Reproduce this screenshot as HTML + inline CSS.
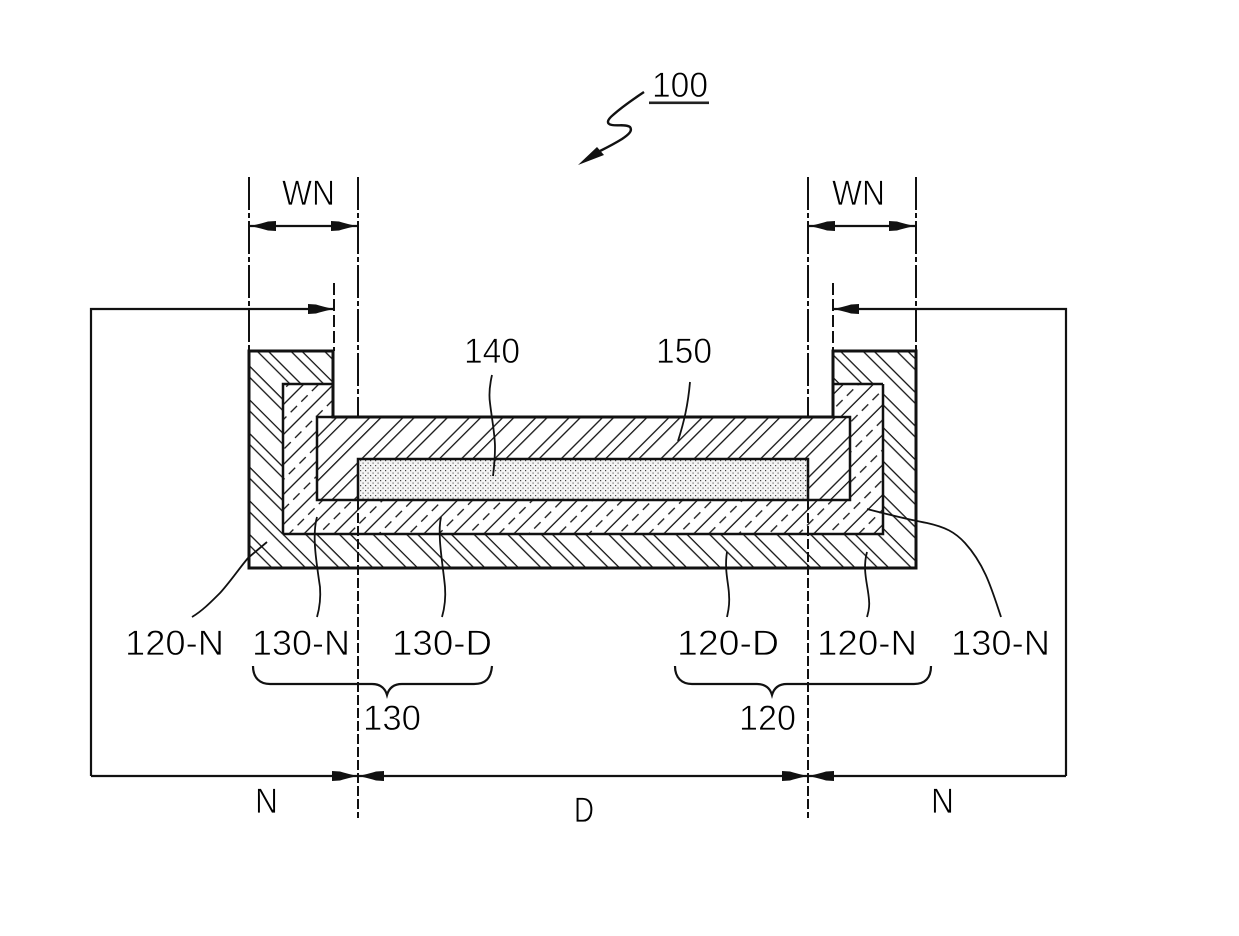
<!DOCTYPE html>
<html><head><meta charset="utf-8"><style>
html,body{margin:0;padding:0;background:#fff}
svg{display:block}
text{font-family:"Liberation Sans",sans-serif;font-size:35px;fill:#000;stroke:#fff;stroke-width:.7px}
</style></head><body>
<svg width="1239" height="936" viewBox="0 0 1239 936" xmlns="http://www.w3.org/2000/svg">
<defs>
<pattern id="h120" patternUnits="userSpaceOnUse" width="23.8" height="10" patternTransform="rotate(-45)">
<rect x="4.3" width="1.3" height="10" fill="#111"/><rect x="12.1" width="1.3" height="10" fill="#111"/>
</pattern>
<pattern id="h130" patternUnits="userSpaceOnUse" width="21.2" height="15" patternTransform="rotate(45)">
<rect x="19.4" width="1.3" height="15" fill="#111"/><rect x="8.8" y="2" width="1.3" height="9" fill="#111"/>
</pattern>
<pattern id="h150" patternUnits="userSpaceOnUse" width="23.5" height="10" patternTransform="rotate(45)">
<rect x="15.6" width="1.3" height="10" fill="#111"/><rect x="0" width="1.3" height="10" fill="#111"/>
</pattern>
<pattern id="d140" patternUnits="userSpaceOnUse" width="5" height="5">
<rect width="5" height="5" fill="#f4f4f4"/>
<rect x="0" y="0" width="1.2" height="1.2" fill="#444"/><rect x="2.5" y="2.5" width="1.2" height="1.2" fill="#666"/>
</pattern>
<marker id="a" markerUnits="userSpaceOnUse" markerWidth="28" markerHeight="12" refX="26" refY="6" orient="auto-start-reverse">
<path d="M0 1L8 1.5Q16 4 26 6Q16 8 8 10.5L0 11Z" fill="#111"/>
</marker>
</defs>

<!-- body -->
<path d="M249 351H333V417H833V351H916V568H249Z" fill="url(#h120)"/>
<path d="M283 384H333V417H317V500H850V417H833V384H883V534H283Z" fill="#fff"/>
<path d="M283 384H333V417H317V500H850V417H833V384H883V534H283Z" fill="url(#h130)"/>
<rect x="317" y="417" width="533" height="83" fill="#fff"/>
<rect x="317" y="417" width="533" height="83" fill="url(#h150)"/>
<rect x="358" y="459" width="450" height="41" fill="url(#d140)"/>
<g fill="none" stroke="#111" stroke-width="3">
<path d="M249 351H333V417H833V351H916V568H249Z"/>
<path d="M283 534V384H333" stroke-width="2.5"/>
<path d="M883 384H833M883 384V534H283" stroke-width="2.5"/>
<rect x="317" y="417" width="533" height="83" stroke-width="2.5"/>
<path d="M358 500V459H808V500" stroke-width="2.5"/>
</g>

<!-- center lines -->
<g fill="none" stroke="#111" stroke-width="2">
<path d="M249 177V351M916 177V351M358 177V417M808 177V417" stroke-dasharray="33 3 5 3"/>
<path d="M358 500V818M808 500V818" stroke-dasharray="10 3"/>
<path d="M334 283V351M833 283V351" stroke-dasharray="12 4"/>
</g>

<!-- dimensions -->
<g fill="none" stroke="#111" stroke-width="2.2">
<path d="M250 226H357" marker-start="url(#a)" marker-end="url(#a)"/>
<path d="M809 226H915" marker-start="url(#a)" marker-end="url(#a)"/>
<path d="M91 776V309H334" marker-end="url(#a)"/>
<path d="M1066 776V309H833" marker-end="url(#a)"/>
<path d="M91 776H358" marker-end="url(#a)"/>
<path d="M1066 776H808" marker-end="url(#a)"/>
<path d="M358 776H808" marker-start="url(#a)" marker-end="url(#a)"/>
</g>

<!-- braces -->
<g fill="none" stroke="#111" stroke-width="2.2">
<path d="M253 666C253 678 260 684 270 684H372C380 684 385 688 387 695C389 688 394 684 402 684H474C486 684 491 678 492 666"/>
<path d="M675 666C675 678 682 684 692 684H757C765 684 770 688 772 695C774 688 779 684 787 684H914C925 684 931 678 931 666"/>
</g>

<!-- leaders -->
<g fill="none" stroke="#111" stroke-width="1.8">
<path d="M492 375C489 388 489 396 490 403C492 420 495 435 495 447C495 460 494 468 493 476"/>
<path d="M690 382C688 405 684 422 678 441"/>
<path d="M267 542L248 558C238 570 230 582 220 593C210 603 202 611 192 617"/>
<path d="M317 517C312 535 316 560 320 587C321 600 319 610 317 617"/>
<path d="M441 517C437 535 443 565 445 587C446 600 444 610 442 617"/>
<path d="M727 552C724 570 729 585 729 595C730 605 728 612 727 617"/>
<path d="M867 552C862 570 868 585 869 600C870 608 868 613 867 617"/>
<path d="M867 509C890 515 910 520 927 523C945 527 955 532 965 543C985 565 992 590 1001 617"/>
</g>

<!-- 100 squiggle -->
<path d="M644 92C632 100 622 107 613 115C607 120 606 124 612 125C618 126 626 124 630 127C633 131 628 135 622 139C614 144 608 147 600 151" fill="none" stroke="#111" stroke-width="2.4"/>
<path d="M578 165L597 147L604 155Z" fill="#111"/>
<rect x="649" y="101.5" width="60" height="2.6" fill="#222"/>

<!-- labels -->
<text x="652" y="97" textLength="56" lengthAdjust="spacingAndGlyphs">100</text>
<text x="282" y="205" textLength="53" lengthAdjust="spacingAndGlyphs">WN</text>
<text x="832" y="205" textLength="53" lengthAdjust="spacingAndGlyphs">WN</text>
<text x="464" y="363" textLength="56" lengthAdjust="spacingAndGlyphs">140</text>
<text x="656" y="363" textLength="56" lengthAdjust="spacingAndGlyphs">150</text>
<text x="125" y="655" textLength="99" lengthAdjust="spacingAndGlyphs">120-N</text>
<text x="252" y="655" textLength="98" lengthAdjust="spacingAndGlyphs">130-N</text>
<text x="392" y="655" textLength="100" lengthAdjust="spacingAndGlyphs">130-D</text>
<text x="677" y="655" textLength="102" lengthAdjust="spacingAndGlyphs">120-D</text>
<text x="817" y="655" textLength="100" lengthAdjust="spacingAndGlyphs">120-N</text>
<text x="951" y="655" textLength="99" lengthAdjust="spacingAndGlyphs">130-N</text>
<text x="363" y="730" textLength="58" lengthAdjust="spacingAndGlyphs">130</text>
<text x="739" y="730" textLength="57" lengthAdjust="spacingAndGlyphs">120</text>
<text x="255" y="813" textLength="23" lengthAdjust="spacingAndGlyphs">N</text>
<text x="574" y="822" textLength="20" lengthAdjust="spacingAndGlyphs">D</text>
<text x="931" y="813" textLength="23" lengthAdjust="spacingAndGlyphs">N</text>
</svg>
</body></html>
